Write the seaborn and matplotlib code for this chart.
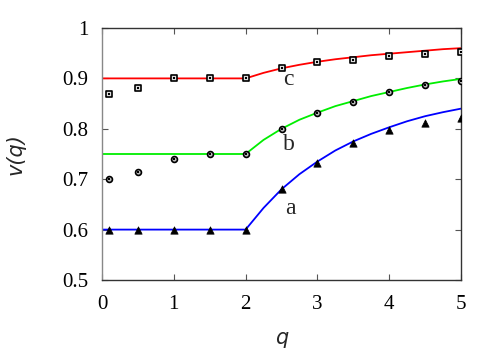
import matplotlib
matplotlib.use("Agg")
import matplotlib.pyplot as plt
import seaborn as sns
import pandas as pd
import numpy as np

# measured points
q_pts = [0.1, 0.5, 1.0, 1.5, 2.0, 2.5, 3.0, 3.5, 4.0, 4.5, 5.0]
a_pts = [0.600, 0.600, 0.600, 0.600, 0.600, 0.681, 0.732, 0.772, 0.798, 0.812, 0.821]
b_pts = [0.700, 0.715, 0.740, 0.750, 0.750, 0.800, 0.831, 0.853, 0.873, 0.886, 0.895]
c_pts = [0.870, 0.880, 0.900, 0.900, 0.900, 0.920, 0.932, 0.937, 0.944, 0.949, 0.953]

# fitted curves
q_line = [0.0, 2.0, 2.25, 2.5, 2.75, 3.0, 3.25, 3.5, 3.75, 4.0, 4.25, 4.5, 4.75, 5.0]
a_line = [0.600, 0.600, 0.643, 0.680, 0.710, 0.735, 0.757, 0.775, 0.790, 0.803, 0.815, 0.825, 0.833, 0.840]
b_line = [0.750, 0.750, 0.778, 0.800, 0.818, 0.832, 0.845, 0.855, 0.865, 0.873, 0.881, 0.888, 0.894, 0.899]
c_line = [0.900, 0.900, 0.911, 0.920, 0.927, 0.933, 0.938, 0.942, 0.946, 0.949, 0.952, 0.955, 0.958, 0.960]

x_ticks = [0, 1, 2, 3, 4, 5]
x_ticklabels = ["0", "1", "2", "3", "4", "5"]
y_ticks = [0.5, 0.6, 0.7, 0.8, 0.9, 1.0]
y_ticklabels = ["0.5", "0.6", "0.7", "0.8", "0.9", "1"]

labels = ["a", "b", "c"]
label_pos = [(2.62, 0.641), (2.6, 0.768), (2.6, 0.898)]

sns.set_style("ticks")
plt.rcParams["font.family"] = "serif"
plt.rcParams["font.serif"] = ["Liberation Serif", "DejaVu Serif"]

fig, ax = plt.subplots(figsize=(5, 3.5), dpi=100)
fig.subplots_adjust(left=0.204, right=0.922, top=0.92, bottom=0.2)

lines = pd.DataFrame({"q": q_line, "a": a_line, "b": b_line, "c": c_line})
pts = pd.DataFrame({"q": q_pts, "a": a_pts, "b": b_pts, "c": c_pts})

for col, color in zip(["a", "b", "c"], ["#0000ff", "#00ee00", "#ff0000"]):
    sns.lineplot(data=lines, x="q", y=col, color=color, lw=1.3, ax=ax, zorder=2)

sns.scatterplot(data=pts, x="q", y="a", marker="^", color="black", s=28,
                edgecolor="black", linewidth=0.5, ax=ax, zorder=3)
sns.scatterplot(data=pts, x="q", y="b", marker="o", facecolor="#bbbbbb", s=18,
                edgecolor="black", linewidth=1.2, ax=ax, zorder=3)
sns.scatterplot(data=pts, x="q", y="c", marker="s", facecolor="#dddddd", s=24,
                edgecolor="black", linewidth=1.2, ax=ax, zorder=3)
# centre dots
for col in ["b", "c"]:
    sns.scatterplot(data=pts, x="q", y=col, marker="s", color="black", s=2,
                    linewidth=0, ax=ax, zorder=4)

for lab, (x, y) in zip(labels, label_pos):
    ax.text(x, y, lab, fontsize=17, ha="center", va="center")

ax.set_xlim(0, 5)
ax.set_ylim(0.5, 1)
ax.set_xticks(x_ticks, labels=x_ticklabels, fontsize=15)
ax.set_yticks(y_ticks, labels=y_ticklabels, fontsize=15)
ax.tick_params(direction="in", length=4, width=0.8,
               top=True, right=True, colors="#555555", labelcolor="black")
ax.tick_params(axis="x", pad=11)
ax.tick_params(axis="y", pad=10)

for s in ax.spines.values():
    s.set_visible(True)
    s.set_color("#333333")
    s.set_linewidth(1.0)
ax.spines["left"].set_color("#888888")

ax.set_xlabel("q", fontsize=15, style="italic", fontfamily="DejaVu Sans", labelpad=10)
ax.set_ylabel("v(q)", fontsize=15, style="italic", fontfamily="DejaVu Sans", labelpad=26)

fig.savefig("out.png", dpi=100)
